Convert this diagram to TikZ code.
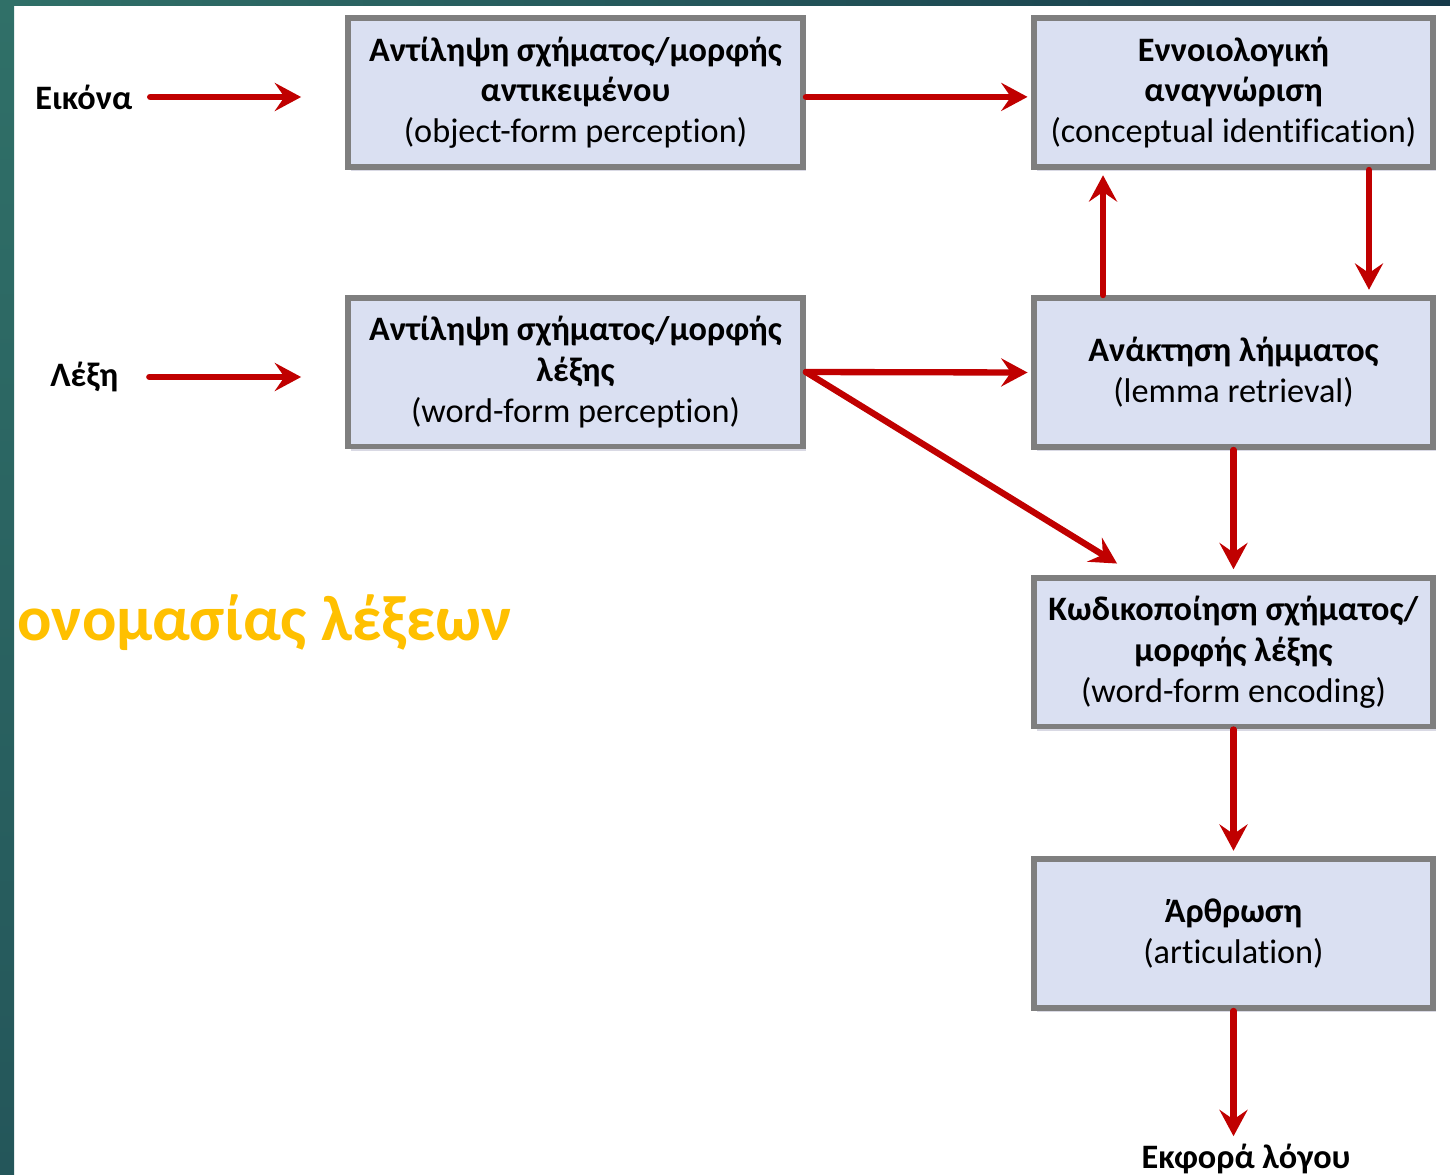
\documentclass[tikz,border=0pt]{standalone}
\usepackage{fontspec}
\setmainfont{Carlito}[Ligatures=NoCommon]
\usetikzlibrary{arrows.meta,shadows}
\definecolor{BoxFill}{RGB}{218,224,242}
\definecolor{BoxLine}{RGB}{127,127,127}
\definecolor{Flow}{RGB}{192,0,0}
\definecolor{Title}{RGB}{255,192,0}
\definecolor{Band}{RGB}{48,112,104}
\definecolor{BandDark}{RGB}{36,86,90}
\definecolor{BandTop}{RGB}{22,58,74}

\begin{document}
\begin{tikzpicture}[x=0.02cm,y=-0.02cm,
  stage/.style={draw=BoxLine,fill=BoxFill,line width=3.4pt,minimum height=2.98cm,align=center,
    font=\fontsize{19.5}{23.2}\selectfont,drop shadow={opacity=0.15,shadow xshift=1.5pt,shadow yshift=-2.5pt,fill=blue!30!black}},
  sidelabel/.style={font=\bfseries\fontsize{19.5}{23.2}\selectfont,inner sep=2pt},
  flow/.style={draw=Flow,line width=3.6pt,line cap=round,-{Stealth[length=15pt,width=16pt,inset=5.5pt]}}]
  \fill[white] (0,0) rectangle (1450,1174);
  \useasboundingbox (0,0) rectangle (1450,1174);
  \shade[top color=Band,bottom color=BandDark] (0,0) rectangle (14,1174);
  \shade[left color=Band,right color=BandTop] (0,0) rectangle (1450,5);
  \node[text=Title,font=\bfseries\fontsize{36.5}{42}\selectfont,anchor=base west,inner sep=0pt] (title) at (17,640) {ονομασίας λέξεων};

  \node[stage,minimum width=9.1cm] (objform) at (575.5,92.5) {\textbf{Αντίληψη σχήματος/μορφής}\\\textbf{αντικειμένου}\\(object-form perception)};
  \node[stage,minimum width=7.98cm] (concept) at (1233.5,92.5) {\textbf{Εννοιολογική}\\\textbf{αναγνώριση}\\(conceptual identification)};
  \node[stage,minimum width=9.1cm] (wordform) at (575.5,372) {\textbf{Αντίληψη σχήματος/μορφής}\\\textbf{λέξης}\\(word-form perception)};
  \node[stage,minimum width=7.98cm] (lemma) at (1233.5,372.5) {\textbf{Ανάκτηση λήμματος}\\(lemma retrieval)};
  \node[stage,minimum width=7.98cm] (encode) at (1233.5,652) {\textbf{Κωδικοποίηση σχήματος/}\\\textbf{μορφής λέξης}\\(word-form encoding)};
  \node[stage,minimum width=7.98cm] (artic) at (1233.5,933.5) {\textbf{Άρθρωση}\\(articulation)};

  \node[sidelabel,anchor=west] (eikona) at (31.5,97) {Εικόνα};
  \node[sidelabel,anchor=west] (lexi) at (46.5,377) {Λέξη};
  \node[sidelabel,anchor=base] (ekfora) at (1246,1168) {Εκφορά λόγου};

  \draw[flow,shorten <=8pt,shorten >=25pt] (eikona.east) -- (eikona.east -| objform.west);
  \draw[flow,shorten <=15.5pt,shorten >=25pt] (lexi.east) -- (lexi.east -| wordform.west);
  \draw[flow,shorten >=2pt] ([yshift=-2.5pt]objform.east) -- ([yshift=-2.5pt]concept.west);
  \draw[flow,shorten >=2pt] (wordform.east) -- (lemma.west);
  \draw[flow] (wordform.east) -- ([shift={(86,-11)}]encode.north west);
  \draw[flow,shorten >=3pt] ([xshift=-2.61cm]lemma.north) -- ([xshift=-2.61cm]concept.south);
  \draw[flow,shorten >=3pt] ([xshift=2.71cm]concept.south) -- ([xshift=2.71cm]lemma.north);
  \draw[flow,shorten >=3pt] (lemma) -- (encode);
  \draw[flow,shorten >=3pt] (encode) -- (artic);
  \draw[flow,shorten >=2pt] (artic.south) -- (artic.south |- ekfora.north);
\end{tikzpicture}
\end{document}
